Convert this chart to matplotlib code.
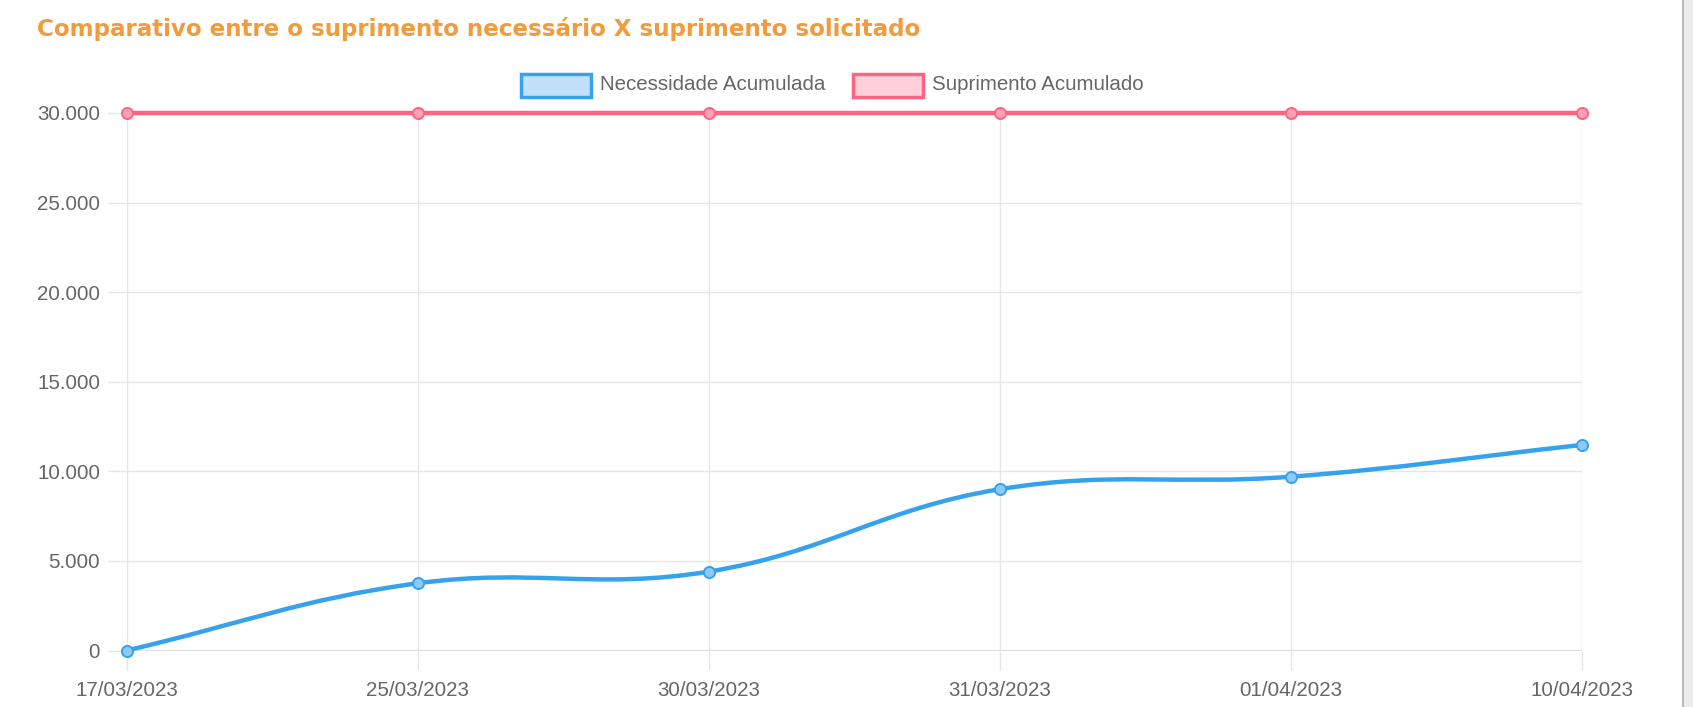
import numpy as np
import matplotlib
matplotlib.use("Agg")
import matplotlib.pyplot as plt
from matplotlib.path import Path
from matplotlib.patches import PathPatch, Rectangle

# Données
datas = ["17/03/2023", "25/03/2023", "30/03/2023", "31/03/2023", "01/04/2023", "10/04/2023"]
necessidade = [0, 3750, 4400, 9000, 9700, 11470]
suprimento = [30000, 30000, 30000, 30000, 30000, 30000]
y_ticks = [0, 5000, 10000, 15000, 20000, 25000, 30000]

W, H = 1693, 707
BLUE = "#36A2EB"
PINK = "#FF6384"
GRID = "#e6e6e6"
TXT = "#666666"

plt.rcParams['font.family'] = ['Liberation Sans', 'DejaVu Sans']

fig = plt.figure(figsize=(W / 100, H / 100), dpi=100)
fig.patch.set_facecolor("white")


def fx(px):
    return px / W


def fy(py):
    return 1 - py / H


# zone du graphique (pixels)
left, right, top, bottom = 126.5, 1581.5, 113, 650.5
ax = fig.add_axes([fx(left), fy(bottom), fx(right - left), (bottom - top) / H])
x = np.arange(len(datas))
ax.set_xlim(0, len(datas) - 1)
ax.set_ylim(0, 30000)

for s in ax.spines.values():
    s.set_visible(False)
ax.set_xticks(x)
ax.set_xticklabels(datas)
ax.set_yticks(y_ticks)
ax.set_yticklabels([f"{v:,}".replace(",", ".") for v in y_ticks])
ax.tick_params(axis="both", colors=GRID, labelcolor=TXT, labelsize=14.8, length=14, width=1)
ax.tick_params(axis="x", pad=8)
ax.tick_params(axis="y", pad=5)
ax.grid(True, color=GRID, linewidth=1)
ax.set_axisbelow(True)
ax.axhline(0, color="#d9d9d9", linewidth=1.2, zorder=1)


# courbe à la manière de Chart.js (tension 0.4)
def chartjs_path(xs, ys, tension=0.4):
    pts = ax.transData.transform(np.column_stack([xs, ys]))
    n = len(pts)
    cp_prev, cp_next = [], []
    for i in range(n):
        prev = pts[max(i - 1, 0)]
        cur = pts[i]
        nxt = pts[min(i + 1, n - 1)]
        d01 = np.hypot(*(cur - prev))
        d12 = np.hypot(*(nxt - cur))
        tot = d01 + d12
        s01 = d01 / tot if tot else 0
        s12 = d12 / tot if tot else 0
        cp_prev.append(cur - tension * s01 * (nxt - prev))
        cp_next.append(cur + tension * s12 * (nxt - prev))
    verts = [pts[0]]
    codes = [Path.MOVETO]
    for i in range(1, n):
        verts += [cp_next[i - 1], cp_prev[i], pts[i]]
        codes += [Path.CURVE4] * 3
    verts = ax.transData.inverted().transform(np.array(verts))
    return Path(verts, codes)


fig.canvas.draw()
ax.add_patch(PathPatch(chartjs_path(x, necessidade), fill=False, edgecolor=BLUE,
                       linewidth=3.2, capstyle="round", joinstyle="round", zorder=3, clip_on=False))
ax.plot(x, suprimento, color=PINK, linewidth=3.2, solid_capstyle="round", zorder=3, clip_on=False)

ax.plot(x, necessidade, "o", markersize=8, markerfacecolor="#8ec9f3", markeredgecolor=BLUE,
        markeredgewidth=1.4, zorder=4, clip_on=False)
ax.plot(x, suprimento, "o", markersize=8, markerfacecolor="#ffa0b4", markeredgecolor=PINK,
        markeredgewidth=1.4, zorder=4, clip_on=False)

# Titre
fig.text(fx(37), fy(29), "Comparativo entre o suprimento necessário X suprimento solicitado",
         color="#F29B3C", fontsize=16.6, fontweight="bold", family=["DejaVu Sans"],
         ha="left", va="center")

# Légende dessinée à la main
legend = [("Necessidade Acumulada", BLUE, "#c2e0f8", 521, 600),
          ("Suprimento Acumulado", PINK, "#ffd0da", 853, 932)]
for label, edge, face, bx, tx in legend:
    fig.patches.append(Rectangle((fx(bx), fy(97)), fx(70), 23 / H, transform=fig.transFigure,
                                 facecolor=face, edgecolor=edge, linewidth=2.5))
    fig.text(fx(tx), fy(85), label, color=TXT, fontsize=14.8, ha="left", va="center")

# bord gris à droite
fig.patches.append(Rectangle((fx(1683), 0), fx(10), 1, transform=fig.transFigure,
                             facecolor="#ececec", edgecolor="none"))
fig.add_artist(plt.Line2D([fx(1683), fx(1683)], [0, 1], color="#bdbdbd", linewidth=1.5,
                          transform=fig.transFigure))

fig.savefig("out.png", dpi=100)
